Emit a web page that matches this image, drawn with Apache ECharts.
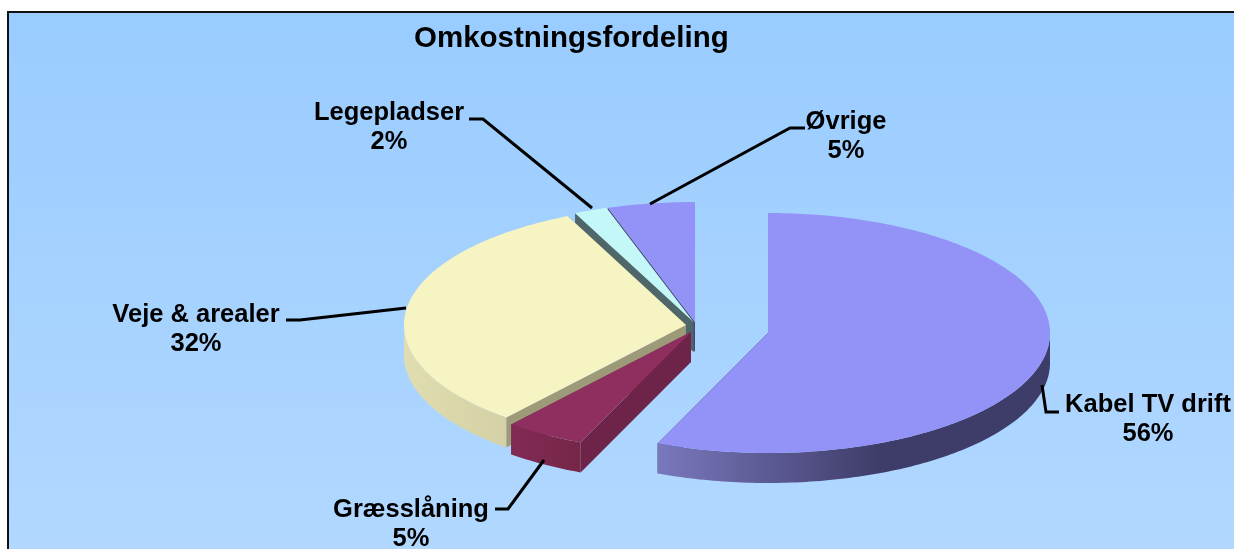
<!DOCTYPE html>
<html>
<head>
<meta charset="utf-8">
<style>
  html, body { margin: 0; padding: 0; background: #fff; }
  #chart { width: 1234px; height: 549px; }
</style>
<script src="https://cdn.jsdelivr.net/npm/echarts@6/dist/echarts.min.js"></script>
</head>
<body>
<div id="chart"></div>
<script>
// clockwise from 12 o'clock
const categories = ['Kabel TV drift', 'Græsslåning', 'Veje & arealer', 'Legepladser', 'Øvrige']
const shares = [56.4, 4.6, 32.1, 1.9, 5.0]

const topColors = ['#9393f7', '#8f2f5f', '#f6f4c3', '#c4f7f7', '#9393f7']
const cutColors = ['#3e3c68', '#6e2448', '#9c9a78', '#4f6769', '#45457a']
const wallStops = [
  [[0, '#7a78bd'], [0.57, '#3e3c68'], [1, '#3e3c68']],
  [[0, '#822a54'], [1, '#752748']],
  [[0, '#e0ddb0'], [1, '#d3d1a5']],
  [[0, '#4f6769'], [1, '#4f6769']],
  [[0, '#45457a'], [1, '#45457a']]
]

// each slice is pulled out by its own amount
const sliceCenters = [[768, 333], [691, 332], [686, 325], [693.5, 322], [695, 322]]
const RX = 282
const RY = 120
const DEPTH = 30

const labelPos = [[1148, 405], [411, 510], [196, 315], [389, 113], [846, 122]]
const LINE_GAP = 29
const leaders = [
  [[1042, 385], [1046, 412], [1059, 412]],
  [[495, 509], [508, 509], [544, 460]],
  [[286, 320], [300, 320], [406, 308]],
  [[469, 119], [483, 119], [592, 208]],
  [[805, 128], [790, 128], [650, 204]]
]

const total = shares.reduce((a, b) => a + b, 0)

function point(c, deg, dy) {
  const t = deg * Math.PI / 180
  return [c[0] + RX * Math.sin(t), c[1] - RY * Math.cos(t) + (dy || 0)]
}

function arc(c, from, to, dy) {
  const pts = []
  const steps = Math.max(2, Math.ceil(to - from))
  for (let i = 0; i <= steps; i++) {
    pts.push(point(c, from + (to - from) * i / steps, dy))
  }
  return pts
}

function labelText(text, x, y) {
  return {
    type: 'text',
    z2: 201,
    x: x,
    y: y,
    style: {
      text: text,
      fill: '#000',
      font: 'bold 25.5px "Liberation Sans"',
      align: 'center',
      verticalAlign: 'middle'
    }
  }
}

function renderSlice(params, api) {
  const i = params.dataIndex
  const c = sliceCenters[i]
  let before = 0
  for (let k = 0; k < i; k++) before += shares[k]
  const from = before / total * 360
  const to = from + api.value(0) / total * 360
  const order = (categories.length - i) * 10 // back slices are painted first
  const low = [c[0], c[1] + DEPTH]
  const children = []

  ;[from, to].forEach(function (deg) {
    const p = point(c, deg)
    children.push({
      type: 'polygon',
      z2: order,
      shape: { points: [c, p, [p[0], p[1] + DEPTH], low] },
      style: { fill: cutColors[i] }
    })
  })

  const a = Math.max(from, 90)
  const b = Math.min(to, 270)
  if (b > a) {
    children.push({
      type: 'polygon',
      z2: order + 1,
      shape: { points: arc(c, a, b).concat(arc(c, a, b, DEPTH).reverse()) },
      style: {
        fill: new echarts.graphic.LinearGradient(0, 0, 1, 0,
          wallStops[i].map(s => ({ offset: s[0], color: s[1] })))
      }
    })
  }

  children.push({
    type: 'polygon',
    z2: order + 2,
    shape: { points: [c].concat(arc(c, from, to)) },
    style: { fill: topColors[i] }
  })

  children.push({
    type: 'polyline',
    z2: 200,
    shape: { points: leaders[i] },
    style: { stroke: '#000', lineWidth: 3, fill: null }
  })
  children.push(labelText(categories[i], labelPos[i][0], labelPos[i][1]))
  children.push(labelText(Math.round(api.value(0)) + '%', labelPos[i][0], labelPos[i][1] + LINE_GAP))

  return { type: 'group', children: children }
}

const myChart = echarts.init(document.getElementById('chart'))
myChart.setOption({
  animation: false,
  backgroundColor: '#fff',
  title: {
    text: 'Omkostningsfordeling',
    left: 414,
    top: 24,
    padding: 0,
    textStyle: {
      fontFamily: 'Liberation Sans',
      fontWeight: 'bold',
      fontSize: 29.5,
      color: '#000'
    }
  },
  graphic: [{
    type: 'rect',
    z: -1,
    shape: { x: 8, y: 12, width: 1240, height: 550 },
    style: {
      stroke: '#111',
      lineWidth: 2,
      fill: new echarts.graphic.LinearGradient(0, 0, 0, 1, [
        { offset: 0, color: '#99ccff' },
        { offset: 1, color: '#b2d8ff' }
      ])
    }
  }],
  series: [{
    type: 'custom',
    coordinateSystem: 'none',
    renderItem: renderSlice,
    data: shares.map(v => [v])
  }]
})
</script>
</body>
</html>
